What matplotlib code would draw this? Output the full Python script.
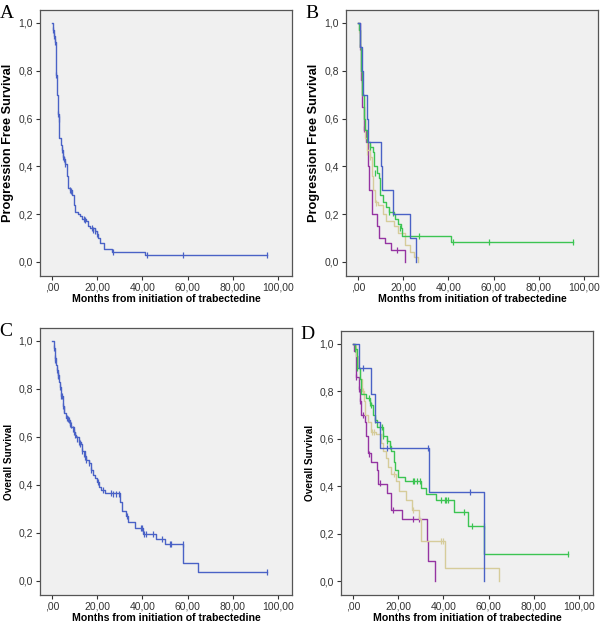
import matplotlib.pyplot as plt

plt.rcParams.update({
    "font.family": "Liberation Sans",
    "font.size": 7,
    "axes.edgecolor": "#555555",
    "axes.linewidth": 0.9,
    "xtick.color": "#333333",
    "ytick.color": "#333333",
    "xtick.major.size": 3,
    "ytick.major.size": 3,
})

# ---- data (Kaplan-Meier step points and censor marks) ----
pfs_all_t = [0, 0.3, 0.8, 1.2, 1.6, 1.9, 2.2, 2.6, 2.9, 3.2, 3.8, 4.3, 4.8, 5.2, 5.8, 6.5,
             7.3, 8.0, 9.0, 9.7, 10.3, 11.5, 12.5, 13.5, 15.0, 16.0, 17.0, 19.0, 19.8,
             20.5, 21.3, 23.0, 26.5, 41.0, 95.0]
pfs_all_s = [1.0, 0.97, 0.945, 0.92, 0.85, 0.78, 0.70, 0.62, 0.60, 0.52, 0.49, 0.47, 0.44,
             0.43, 0.41, 0.36, 0.31, 0.30, 0.28, 0.24, 0.21, 0.20, 0.19, 0.18, 0.17, 0.15,
             0.14, 0.13, 0.115, 0.10, 0.08, 0.055, 0.04, 0.03, 0.03]
pfs_all_ct = [0.3, 0.8, 1.2, 1.9, 2.6, 2.9, 4.3, 4.8, 5.2, 5.8, 7.8, 8.3, 14.0, 14.5,
              17.5, 18.2, 19.0, 19.8, 26.8, 42.0, 58.0, 95.0]
pfs_all_cs = [0.97, 0.945, 0.92, 0.78, 0.62, 0.60, 0.47, 0.44, 0.43, 0.41, 0.30, 0.295,
              0.18, 0.175, 0.14, 0.135, 0.13, 0.115, 0.04, 0.03, 0.03, 0.03]

pfs_blue_t = [0, 1.1, 1.8, 2.3, 4.0, 4.4, 10.3, 10.6, 15.4, 22.9, 25.8]
pfs_blue_s = [1.0, 0.9, 0.8, 0.7, 0.6, 0.5, 0.4, 0.3, 0.2, 0.1, 0.0]
pfs_blue_ct = []
pfs_blue_cs = []

pfs_green_t = [0, 0.5, 1.0, 1.5, 2.0, 2.5, 3.0, 4.0, 5.5, 6.5, 7.0, 8.5, 9.2, 9.9, 11.0,
               12.4, 13.6, 15.8, 16.5, 17.5, 19.0, 19.5, 41.0, 95.0]
pfs_green_s = [1.0, 0.97, 0.9, 0.8, 0.7, 0.6, 0.55, 0.5, 0.48, 0.46, 0.40, 0.37, 0.35,
               0.28, 0.25, 0.23, 0.21, 0.20, 0.18, 0.16, 0.14, 0.11, 0.083, 0.083]
pfs_green_ct = [5.3, 7.7, 13.8, 15.5, 18.8, 27.0, 42.0, 58.0, 95.0]
pfs_green_cs = [0.48, 0.37, 0.21, 0.205, 0.14, 0.11, 0.083, 0.083, 0.083]

pfs_tan_t = [0, 0.3, 1.0, 1.5, 2.0, 2.5, 3.0, 4.0, 5.3, 6.0, 6.5, 7.7, 9.0, 11.0, 12.5,
             16.0, 17.5, 21.0, 23.0, 25.0, 26.5]
pfs_tan_s = [1.0, 0.97, 0.9, 0.8, 0.7, 0.6, 0.52, 0.47, 0.44, 0.36, 0.30, 0.25, 0.24,
             0.20, 0.17, 0.15, 0.12, 0.07, 0.04, 0.02, 0.0]
pfs_tan_ct = [0.3, 4.2, 5.3, 8.0]
pfs_tan_cs = [0.97, 0.46, 0.44, 0.245]

pfs_purple_t = [0, 1.0, 1.5, 2.0, 2.5, 3.5, 4.3, 4.7, 6.2, 8.4, 9.2, 11.8, 14.6, 21.0]
pfs_purple_s = [1.0, 0.9, 0.76, 0.65, 0.55, 0.5, 0.4, 0.3, 0.2, 0.15, 0.1, 0.08, 0.05, 0.0]
pfs_purple_ct = [1.0, 1.6, 2.5, 17.3]
pfs_purple_cs = [0.9, 0.76, 0.555, 0.05]

os_all_t = [0, 0.7, 1.3, 1.8, 2.2, 2.5, 3.0, 3.4, 4.1, 4.9, 5.5, 6.3, 7.0, 7.8, 8.5, 9.6,
            10.2, 10.8, 11.8, 12.7, 13.4, 14.5, 15.2, 16.2, 17.1, 18.0, 18.9, 19.9, 21.0,
            21.8, 23.3, 29.9, 30.8, 32.9, 33.6, 36.6, 40.3, 46.2, 50.1, 58.0, 64.6, 95.0]
os_all_s = [1.0, 0.97, 0.93, 0.9, 0.88, 0.86, 0.83, 0.81, 0.77, 0.73, 0.70, 0.68, 0.67,
            0.65, 0.64, 0.62, 0.61, 0.60, 0.58, 0.57, 0.54, 0.52, 0.505, 0.49, 0.46, 0.44,
            0.43, 0.41, 0.39, 0.38, 0.365, 0.33, 0.29, 0.27, 0.245, 0.22, 0.195, 0.175,
            0.155, 0.075, 0.037, 0.037]
os_all_ct = [0.8, 1.3, 1.5, 2.2, 2.5, 2.7, 3.4, 4.1, 4.4, 4.9, 5.4, 6.5, 7.0, 7.4, 7.8,
             8.3, 9.2, 9.6, 10.2, 11.2, 11.8, 12.2, 12.6, 13.5, 14.0, 14.5, 15.2, 16.3,
             17.2, 20.2, 22.5, 26.3, 26.8, 28.5, 29.5, 33.0, 39.2, 40.0, 40.8, 41.5, 44.5,
             48.5, 52.0, 52.8, 57.8, 95.0]
os_all_cs = [0.97, 0.93, 0.92, 0.88, 0.86, 0.855, 0.81, 0.77, 0.77, 0.73, 0.715, 0.68,
             0.675, 0.67, 0.655, 0.65, 0.635, 0.62, 0.61, 0.59, 0.58, 0.575, 0.57, 0.54,
             0.53, 0.515, 0.505, 0.49, 0.46, 0.41, 0.38, 0.365, 0.36, 0.36, 0.36, 0.27,
             0.22, 0.22, 0.195, 0.195, 0.195, 0.175, 0.155, 0.155, 0.155, 0.037]

os_blue_t = [0, 2.6, 8.1, 9.6, 11.8, 33.5, 58.1]
os_blue_s = [1.0, 0.9, 0.79, 0.67, 0.56, 0.375, 0.0]
os_blue_ct = [4.4, 15.0, 33.2, 51.8]
os_blue_cs = [0.9, 0.56, 0.56, 0.375]

os_green_t = [0, 0.8, 1.8, 2.9, 3.7, 5.9, 7.6, 8.1, 9.0, 9.6, 10.8, 13.2, 15.0, 16.2, 17.0,
              18.0, 18.7, 19.9, 22.8, 30.0, 32.4, 36.8, 44.9, 50.7, 58.1, 95.0]
os_green_s = [1.0, 0.98, 0.9, 0.85, 0.79, 0.77, 0.75, 0.74, 0.70, 0.68, 0.65, 0.61, 0.59,
              0.57, 0.55, 0.50, 0.47, 0.44, 0.42, 0.39, 0.365, 0.34, 0.29, 0.23, 0.115, 0.115]
os_green_ct = [0.8, 2.0, 6.9, 7.6, 8.1, 9.8, 12.0, 12.8, 13.5, 15.2, 16.5, 26.5, 27.2, 28.2,
               29.7, 39.0, 40.5, 41.2, 42.2, 49.0, 52.6, 58.0, 95.0]
os_green_cs = [0.98, 0.9, 0.77, 0.75, 0.74, 0.68, 0.65, 0.65, 0.61, 0.59, 0.57, 0.42, 0.42,
               0.42, 0.42, 0.34, 0.34, 0.34, 0.34, 0.29, 0.23, 0.23, 0.115]

os_tan_t = [0, 1.5, 2.2, 3.0, 4.0, 5.0, 5.5, 6.5, 7.8, 10.0, 12.5, 13.5, 14.5, 15.5, 17.0,
            19.0, 20.5, 23.5, 26.0, 29.0, 30.0, 40.9, 64.7]
os_tan_s = [1.0, 0.95, 0.9, 0.85, 0.8, 0.76, 0.70, 0.67, 0.63, 0.62, 0.58, 0.55, 0.52,
            0.48, 0.45, 0.42, 0.38, 0.34, 0.30, 0.26, 0.17, 0.055, 0.0]
os_tan_ct = [4.3, 8.2, 9.2, 18.2, 26.5, 39.0, 40.0]
os_tan_cs = [0.8, 0.63, 0.63, 0.45, 0.30, 0.17, 0.17]

os_purple_t = [0, 0.6, 1.2, 2.5, 3.0, 3.7, 5.3, 5.9, 6.8, 8.1, 10.5, 11.0, 15.2, 17.0,
               21.5, 32.6, 33.0, 36.5]
os_purple_s = [1.0, 0.97, 0.86, 0.81, 0.76, 0.70, 0.67, 0.61, 0.54, 0.50, 0.47, 0.41, 0.37,
               0.30, 0.26, 0.17, 0.085, 0.0]
os_purple_ct = [1.5, 2.5, 3.2, 4.3, 7.3, 12.0, 17.5, 26.5, 29.0]
os_purple_cs = [0.86, 0.81, 0.76, 0.70, 0.535, 0.415, 0.30, 0.26, 0.26]

x_ticks = [0, 20, 40, 60, 80, 100]
x_tick_labels = [",00", "20,00", "40,00", "60,00", "80,00", "100,00"]
y_ticks = [0.0, 0.2, 0.4, 0.6, 0.8, 1.0]
y_tick_labels = ["0,0", "0,2", "0,4", "0,6", "0,8", "1,0"]

BLUE = "#4A62C6"
GREEN = "#3CC452"
TAN = "#D6CC9A"
PURPLE = "#9534A2"

W, H = 600, 624
fig = plt.figure(figsize=(W / 100, H / 100), dpi=100)


def make_axes(left, top, right, bottom):
    return fig.add_axes([left / W, 1 - bottom / H, (right - left) / W, (bottom - top) / H])


def style(ax, ylabel, ysize, letter):
    ax.set_facecolor("#F0F0F0")
    ax.set_xlim(-5.3, 106.2)
    ax.set_ylim(-0.059, 1.054)
    ax.set_xticks(x_ticks)
    ax.set_xticklabels(x_tick_labels)
    ax.set_yticks(y_ticks)
    ax.set_yticklabels(y_tick_labels)
    ax.tick_params(labelsize=7.5, pad=2)
    ax.set_xlabel("Months from initiation of trabectedine", fontsize=7.6, fontweight="bold", labelpad=1)
    ax.set_ylabel(ylabel, fontsize=ysize, fontweight="bold", labelpad=3)
    ax.text(-0.16, 1.02, letter, transform=ax.transAxes, fontsize=14,
            family="Liberation Serif", va="top", ha="left")


def km(ax, t, s, ct, cs, color):
    ax.step(t, s, where="post", color=color, lw=1.0)
    if ct:
        ax.plot(ct, cs, ls="none", marker="|", ms=5, mew=0.9, color=color)


axA = make_axes(40, 10, 292, 276)
style(axA, "Progression Free Survival", 9.2, "A")
km(axA, pfs_all_t, pfs_all_s, pfs_all_ct, pfs_all_cs, BLUE)

axB = make_axes(346, 10, 598, 276)
style(axB, "Progression Free Survival", 9.2, "B")
km(axB, pfs_purple_t, pfs_purple_s, pfs_purple_ct, pfs_purple_cs, PURPLE)
km(axB, pfs_tan_t, pfs_tan_s, pfs_tan_ct, pfs_tan_cs, TAN)
km(axB, pfs_green_t, pfs_green_s, pfs_green_ct, pfs_green_cs, GREEN)
km(axB, pfs_blue_t, pfs_blue_s, pfs_blue_ct, pfs_blue_cs, BLUE)

axC = make_axes(40, 328, 292, 595)
style(axC, "Overall Survival", 7.2, "C")
km(axC, os_all_t, os_all_s, os_all_ct, os_all_cs, BLUE)

axD = make_axes(341, 331, 593, 595)
style(axD, "Overall Survival", 7.2, "D")
km(axD, os_purple_t, os_purple_s, os_purple_ct, os_purple_cs, PURPLE)
km(axD, os_tan_t, os_tan_s, os_tan_ct, os_tan_cs, TAN)
km(axD, os_green_t, os_green_s, os_green_ct, os_green_cs, GREEN)
km(axD, os_blue_t, os_blue_s, os_blue_ct, os_blue_cs, BLUE)

fig.savefig("out.png", dpi=100, facecolor="white")
